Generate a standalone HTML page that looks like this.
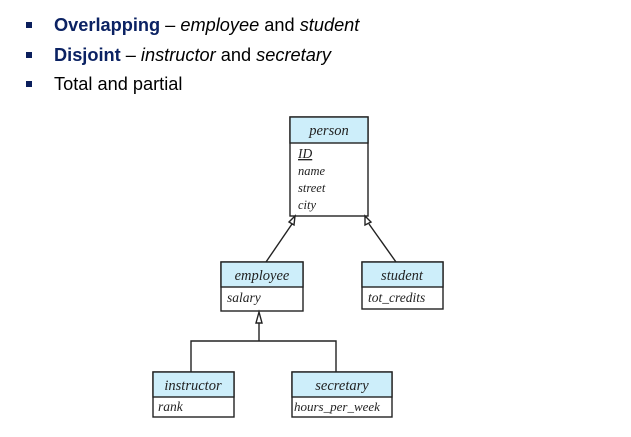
<!DOCTYPE html>
<html><head><meta charset="utf-8"><style>
body{margin:0;width:631px;height:437px;background:#fff;overflow:hidden}
.b{position:absolute;left:26px;width:6px;height:6px;background:#0b1f5c}
.t{position:absolute;left:54px;font-family:"Liberation Sans",sans-serif;font-size:18.2px;color:#000;white-space:nowrap;line-height:20px}
.t b{color:#0b2263}
</style></head><body>
<div class="b" style="top:22px"></div>
<div class="t" style="top:15px"><b>Overlapping</b> – <i>employee</i> and <i>student</i></div>
<div class="b" style="top:52px"></div>
<div class="t" style="top:45px"><b>Disjoint</b> – <i>instructor</i> and <i>secretary</i></div>
<div class="b" style="top:81px"></div>
<div class="t" style="top:74px">Total and partial</div>
<svg width="631" height="437" style="position:absolute;left:0;top:0" font-family="Liberation Serif, serif" font-style="italic">
<g stroke="#222" stroke-width="1.4" fill="#fff">
<rect x="290" y="117" width="78" height="99"/>
<rect x="290" y="117" width="78" height="26" fill="#cdeefa"/>
<rect x="221" y="262" width="82" height="49"/>
<rect x="221" y="262" width="82" height="25" fill="#cdeefa"/>
<rect x="362" y="262" width="81" height="47"/>
<rect x="362" y="262" width="81" height="25" fill="#cdeefa"/>
<rect x="153" y="372" width="81" height="45"/>
<rect x="153" y="372" width="81" height="25" fill="#cdeefa"/>
<rect x="292" y="372" width="100" height="45"/>
<rect x="292" y="372" width="100" height="25" fill="#cdeefa"/>
<line x1="266" y1="262" x2="292" y2="224"/>
<line x1="396" y1="262" x2="369" y2="224"/>
<polygon points="295,216 289,222 294,225" />
<polygon points="365,216 365,225 371,222"/>
<line x1="259" y1="323" x2="259" y2="341"/>
<polygon points="259,312 256,323 262,323"/>
<polyline fill="none" points="191,372 191,341 336,341 336,372"/>
</g>
<g font-size="13.5" fill="#222">
<text x="329" y="135" text-anchor="middle" font-size="14.5">person</text>
<text x="298" y="158" text-decoration="underline">ID</text>
<text x="298" y="175" font-size="12.5">name</text>
<text x="298" y="192" font-size="12.5">street</text>
<text x="298" y="209" font-size="12.5">city</text>
<text x="262" y="280" text-anchor="middle" font-size="14.5">employee</text>
<text x="227" y="302">salary</text>
<text x="402" y="280" text-anchor="middle" font-size="14.5">student</text>
<text x="368" y="302">tot_credits</text>
<text x="193" y="390" text-anchor="middle" font-size="14.5">instructor</text>
<text x="158" y="411">rank</text>
<text x="342" y="390" text-anchor="middle" font-size="14.5">secretary</text>
<text x="294" y="411" font-size="13">hours_per_week</text>
</g>
</svg>
</body></html>
